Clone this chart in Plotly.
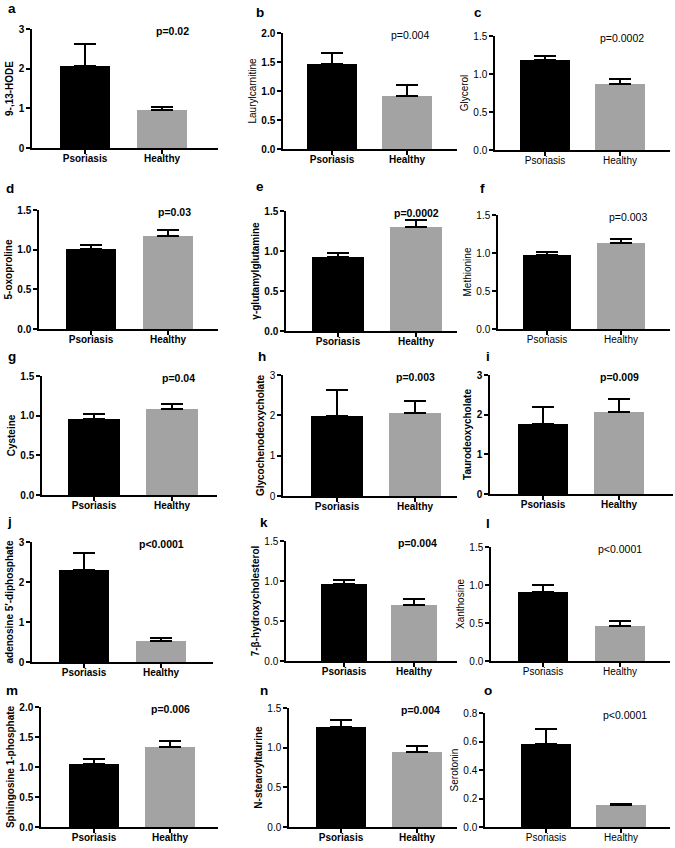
import plotly.graph_objects as go

# ---------------- data ----------------
groups = ["Psoriasis", "Healthy"]
panel_letters = ["a", "b", "c", "d", "e", "f", "g", "h", "i", "j", "k", "l", "m", "n", "o"]
metabolites = ["9-,13-HODE", "Laurylcarnitine", "Glycerol", "5-oxoproline",
               "γ-glutamylglutamine", "Methionine", "Cysteine", "Glycochenodeoxycholate",
               "Taurodeoxycholate", "adenosine 5′-diphosphate", "7-β-hydroxycholesterol",
               "Xanthosine", "Sphingosine 1-phosphate", "N-stearoyltaurine", "Serotonin"]
psoriasis_mean = [2.06, 1.46, 1.18, 1.01, 0.92, 0.975, 0.96, 1.98, 1.77, 2.31, 0.96, 0.91, 1.05, 1.26, 0.58]
psoriasis_sem = [0.55, 0.19, 0.06, 0.05, 0.06, 0.04, 0.06, 0.65, 0.43, 0.42, 0.05, 0.09, 0.08, 0.09, 0.11]
healthy_mean = [0.97, 0.92, 0.87, 1.17, 1.30, 1.13, 1.09, 2.05, 2.07, 0.525, 0.70, 0.46, 1.33, 0.94, 0.152]
healthy_sem = [0.07, 0.19, 0.06, 0.08, 0.09, 0.05, 0.06, 0.31, 0.32, 0.08, 0.07, 0.07, 0.10, 0.08, 0.012]
p_values = ["p=0.02", "p=0.004", "p=0.0002", "p=0.03", "p=0.0002", "p=0.003", "p=0.04", "p=0.003",
            "p=0.009", "p<0.0001", "p=0.004", "p<0.0001", "p=0.006", "p=0.004", "p<0.0001"]
y_max = [3, 2.0, 1.5, 1.5, 1.5, 1.5, 1.5, 3, 3, 3, 1.5, 1.5, 2.0, 1.5, 0.8]
y_step = [1, 0.5, 0.5, 0.5, 0.5, 0.5, 0.5, 1, 1, 1, 0.5, 0.5, 0.5, 0.5, 0.2]

# ---------------- layout geometry (pixels) ----------------
# axis-left, axis-right, bar centre 0, bar centre 1, top, bottom
geom = [
    (32, 218, 85, 162, 29, 148), (283, 457, 332, 407, 33, 149), (495, 670, 545, 620, 36, 150),
    (39, 218, 91, 168, 210, 329), (286, 457, 338, 416, 211, 331), (498, 670, 547, 621, 215, 329),
    (42, 217, 94, 172, 376, 495), (283, 457, 337, 415, 375, 496), (490, 673, 543, 619, 375, 494),
    (32, 213, 84, 161, 542, 662), (286, 457, 344, 414, 541, 661), (491, 670, 543, 620, 547, 661),
    (41, 218, 94, 170, 707, 827), (289, 457, 341, 417, 708, 827), (485, 670, 546, 621, 713, 827),
]
letter_pos = [(12, 9), (260, 12), (478, 12), (10, 188), (260, 187), (482, 188),
              (12, 357), (262, 357), (488, 357), (9, 521), (264, 522), (488, 523),
              (12, 690), (264, 690), (488, 690)]
p_x = [1.13, 1.04, 1.03, 1.08, 1.0, 1.09, 1.08, 1.0, 1.0, 1.0, 1.05, 1.0, 1.0, 1.04, 1.05]
bold = [True, False, False, True, True, False, True, True, True, True, True, False, True, True, False]
tick_bold = [True, True, False, True, True, False, True, False, True, True, False, False, True, False, False]
cat_bold = [True, True, False, True, True, False, True, True, True, True, True, False, True, True, False]

W, H = 675, 848
FONT = "Arial, Liberation Sans, sans-serif"
BLACK, GRAY = "#000000", "#A3A3A3"

fig = go.Figure()
annotations = []


def b(txt, on):
    return f"<b>{txt}</b>" if on else txt


for i in range(15):
    xl, xr, c0, c1, top, bot = geom[i]
    unit = c1 - c0
    r0 = -(c0 - xl) / unit
    r1 = 1 + (xr - c1) / unit
    ax = "" if i == 0 else str(i + 1)
    xa, ya = "x" + ax, "y" + ax
    fig.add_trace(go.Bar(
        x=[0, 1], y=[psoriasis_mean[i], healthy_mean[i]],
        marker=dict(color=[BLACK, GRAY], line=dict(width=0)),
        width=0.66,
        error_y=dict(type="data", array=[psoriasis_sem[i], healthy_sem[i]], arrayminus=[0, 0],
                     symmetric=False, color=BLACK, thickness=2, width=11),
        xaxis=xa, yaxis=ya, showlegend=False, hoverinfo="skip",
    ))
    nt = int(round(y_max[i] / y_step[i]))
    tv = [round(k * y_step[i], 3) for k in range(nt + 1)]
    fmt = "{:.0f}" if y_step[i] >= 1 else "{:.1f}"
    tt = [b(fmt.format(v), tick_bold[i]) for v in tv]
    fig.layout["xaxis" + ax] = dict(
        domain=[xl / W, xr / W], range=[r0, r1], anchor=ya,
        tickmode="array", tickvals=[0, 1], ticktext=[b(g, cat_bold[i]) for g in groups],
        ticks="outside", ticklen=4, tickwidth=1.5, tickcolor="black", ticklabelstandoff=-4,
        showline=True, linecolor="black", linewidth=1.5, showgrid=False, zeroline=False,
        tickfont=dict(family=FONT, size=10, color="black"), automargin=False, fixedrange=True,
    )
    fig.layout["yaxis" + ax] = dict(
        domain=[1 - bot / H, 1 - top / H], range=[0, y_max[i]], anchor=xa,
        tickmode="array", tickvals=tv, ticktext=tt,
        ticks="outside", ticklen=4, tickwidth=1.5, tickcolor="black",
        showline=True, linecolor="black", linewidth=1.5, showgrid=False, zeroline=False,
        tickfont=dict(family=FONT, size=10, color="black"),
        title=dict(text=b(metabolites[i], bold[i]), font=dict(family=FONT, size=10, color="black"),
                   standoff=3),
        automargin=False, fixedrange=True,
    )
    annotations.append(dict(
        x=p_x[i], y=y_max[i] * 0.985, xref=xa, yref=ya, text=b(p_values[i], bold[i]),
        showarrow=False, xanchor="center", yanchor="middle",
        font=dict(family=FONT, size=10.5, color="black"),
    ))
    lx, ly = letter_pos[i]
    annotations.append(dict(
        x=lx / W, y=1 - ly / H, xref="paper", yref="paper", text="<b>" + panel_letters[i] + "</b>",
        showarrow=False, xanchor="center", yanchor="middle",
        font=dict(family=FONT, size=13.5, color="black"),
    ))

fig.update_layout(
    width=W, height=H, margin=dict(l=0, r=0, t=0, b=0),
    paper_bgcolor="white", plot_bgcolor="white", template="none",
    annotations=annotations, bargap=0,
)
fig.write_html("out.html", config={"displayModeBar": False},
               post_script="document.body.style.margin='0';")
